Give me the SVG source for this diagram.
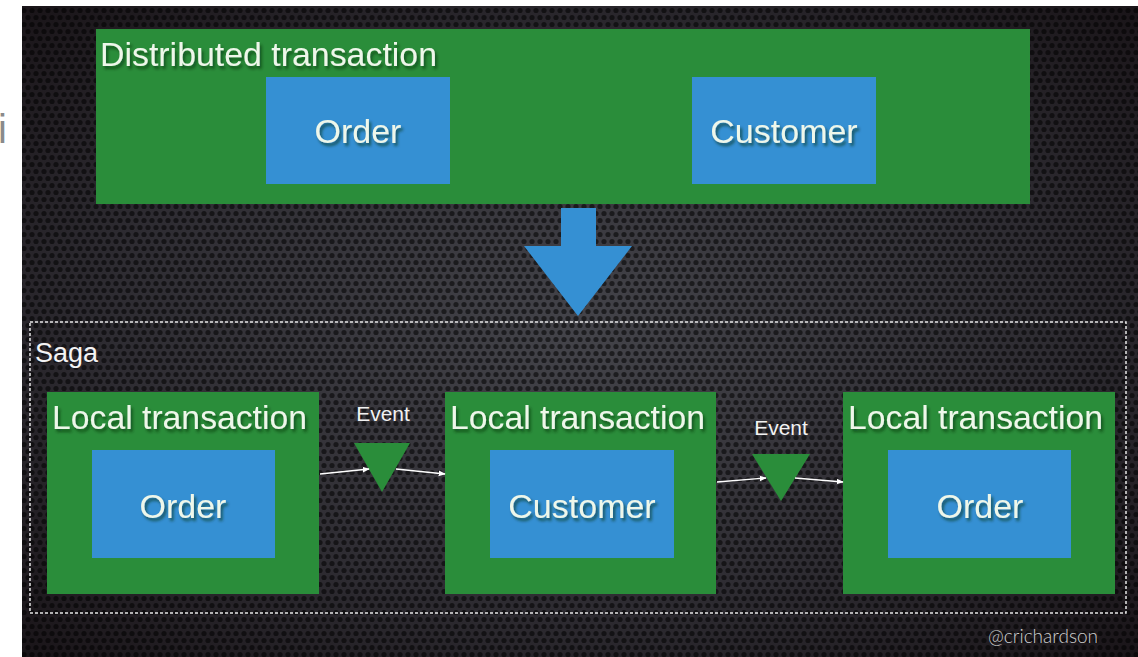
<svg xmlns="http://www.w3.org/2000/svg" width="1138" height="657" viewBox="0 0 1138 657">
  <defs>
    <radialGradient id="bgGlow" cx="0.5" cy="0.5" r="0.7">
      <stop offset="0" stop-color="#44444a"/>
      <stop offset="0.6" stop-color="#2e2c32"/>
      <stop offset="1" stop-color="#1a1519"/>
    </radialGradient>
    <pattern id="mesh" width="8" height="14" patternUnits="userSpaceOnUse">
      <circle cx="4" cy="3.5" r="2.6" fill="#000" fill-opacity="0.55"/>
      <circle cx="0" cy="10.5" r="2.6" fill="#000" fill-opacity="0.55"/>
      <circle cx="8" cy="10.5" r="2.6" fill="#000" fill-opacity="0.55"/>
    </pattern>
    <filter id="textShadow" x="-10%" y="-30%" width="130%" height="180%">
      <feGaussianBlur in="SourceAlpha" stdDeviation="1.5"/>
      <feOffset dx="2" dy="3" result="off"/>
      <feFlood flood-color="#0a2a10" flood-opacity="0.6"/>
      <feComposite in2="off" operator="in"/>
      <feMerge><feMergeNode/><feMergeNode in="SourceGraphic"/></feMerge>
    </filter>
    <marker id="arrowHead" viewBox="0 0 10 10" refX="9" refY="5" markerWidth="7" markerHeight="7" orient="auto" markerUnits="userSpaceOnUse">
      <path d="M0,1 L10,5 L0,9 z" fill="#ffffff"/>
    </marker>
    <style>
      .green { fill: #2a8d3a; }
      .blue { fill: #3590d3; }
      .label { font-family: "Liberation Sans", Arial, sans-serif; fill: #eef7ea; filter: url(#textShadow); }
      .big { font-size: 34px; }
      .inner { font-size: 34px; text-anchor: middle; }
      .event { font-family: "Liberation Sans", Arial, sans-serif; font-size: 21px; fill: #f2f2f2; text-anchor: middle; }
      .tri { fill: #2a8d3a; }
      .link { stroke: #ffffff; stroke-width: 1.4; fill: none; marker-end: url(#arrowHead); }
    </style>
  </defs>

  <!-- page and textured backdrop -->
  <rect x="0" y="0" width="1138" height="657" fill="#ffffff"/>
  <text x="-2" y="143" font-family="Liberation Sans, Arial, sans-serif" font-size="40" fill="#8a8a8a">i</text>
  <rect x="22" y="6" width="1116" height="651" fill="url(#bgGlow)"/>
  <rect x="22" y="6" width="1116" height="651" fill="url(#mesh)"/>

  <!-- distributed transaction -->
  <g id="distributed-transaction">
    <rect class="green" x="96" y="29" width="934" height="175"/>
    <text class="label big" x="100" y="66" textLength="337" lengthAdjust="spacingAndGlyphs">Distributed transaction</text>
  </g>
  <g id="dt-order">
    <rect class="blue" x="266" y="77" width="184" height="107"/>
    <text class="label inner" x="358" y="143">Order</text>
  </g>
  <g id="dt-customer">
    <rect class="blue" x="692" y="77" width="184" height="107"/>
    <text class="label inner" x="784" y="143">Customer</text>
  </g>

  <!-- big downward arrow -->
  <g id="transform-arrow">
    <path d="M561,208 L596,208 L596,246 L632,246 L578,316 L524,246 L561,246 z" fill="#3590d3"/>
  </g>

  <!-- saga boundary -->
  <g id="saga">
    <rect x="30" y="322" width="1096" height="291" fill="none" stroke="#e6e6e6" stroke-width="1.5" stroke-dasharray="3 2"/>
    <text x="35" y="362" font-family="Liberation Sans, Arial, sans-serif" font-size="27" fill="#f4f4f4">Saga</text>
  </g>

  <!-- local transactions -->
  <g id="local-tx-1">
    <rect class="green" x="47" y="392" width="272" height="202"/>
    <text class="label" x="52" y="429" font-size="33" textLength="255" lengthAdjust="spacingAndGlyphs">Local transaction</text>
    <rect class="blue" x="92" y="450" width="183" height="108"/>
    <text class="label inner" x="183" y="518">Order</text>
  </g>
  <g id="local-tx-2">
    <rect class="green" x="445" y="392" width="271" height="202"/>
    <text class="label" x="450" y="429" font-size="33" textLength="255" lengthAdjust="spacingAndGlyphs">Local transaction</text>
    <rect class="blue" x="490" y="450" width="184" height="108"/>
    <text class="label inner" x="582" y="518">Customer</text>
  </g>
  <g id="local-tx-3">
    <rect class="green" x="843" y="392" width="272" height="202"/>
    <text class="label" x="848" y="429" font-size="33" textLength="255" lengthAdjust="spacingAndGlyphs">Local transaction</text>
    <rect class="blue" x="888" y="450" width="183" height="108"/>
    <text class="label inner" x="980" y="518">Order</text>
  </g>

  <!-- events -->
  <g id="event-1">
    <text class="event" x="383" y="421">Event</text>
    <path class="tri" d="M354,443 L410,443 L382,492 z"/>
  </g>
  <g id="event-2">
    <text class="event" x="781" y="435">Event</text>
    <path class="tri" d="M752,454 L810,454 L781,501 z"/>
  </g>

  <!-- connectors -->
  <g id="connectors">
    <path class="link" d="M320,474 L369,469"/>
    <path class="link" d="M396,469 L445,474"/>
    <path class="link" d="M717,482 L766,478"/>
    <path class="link" d="M795,478 L843,482"/>
  </g>

  <text x="988" y="643" font-family="Lato, 'Liberation Sans', sans-serif" font-size="19" font-weight="300" fill="#cfcfcf">@crichardson</text>
</svg>
